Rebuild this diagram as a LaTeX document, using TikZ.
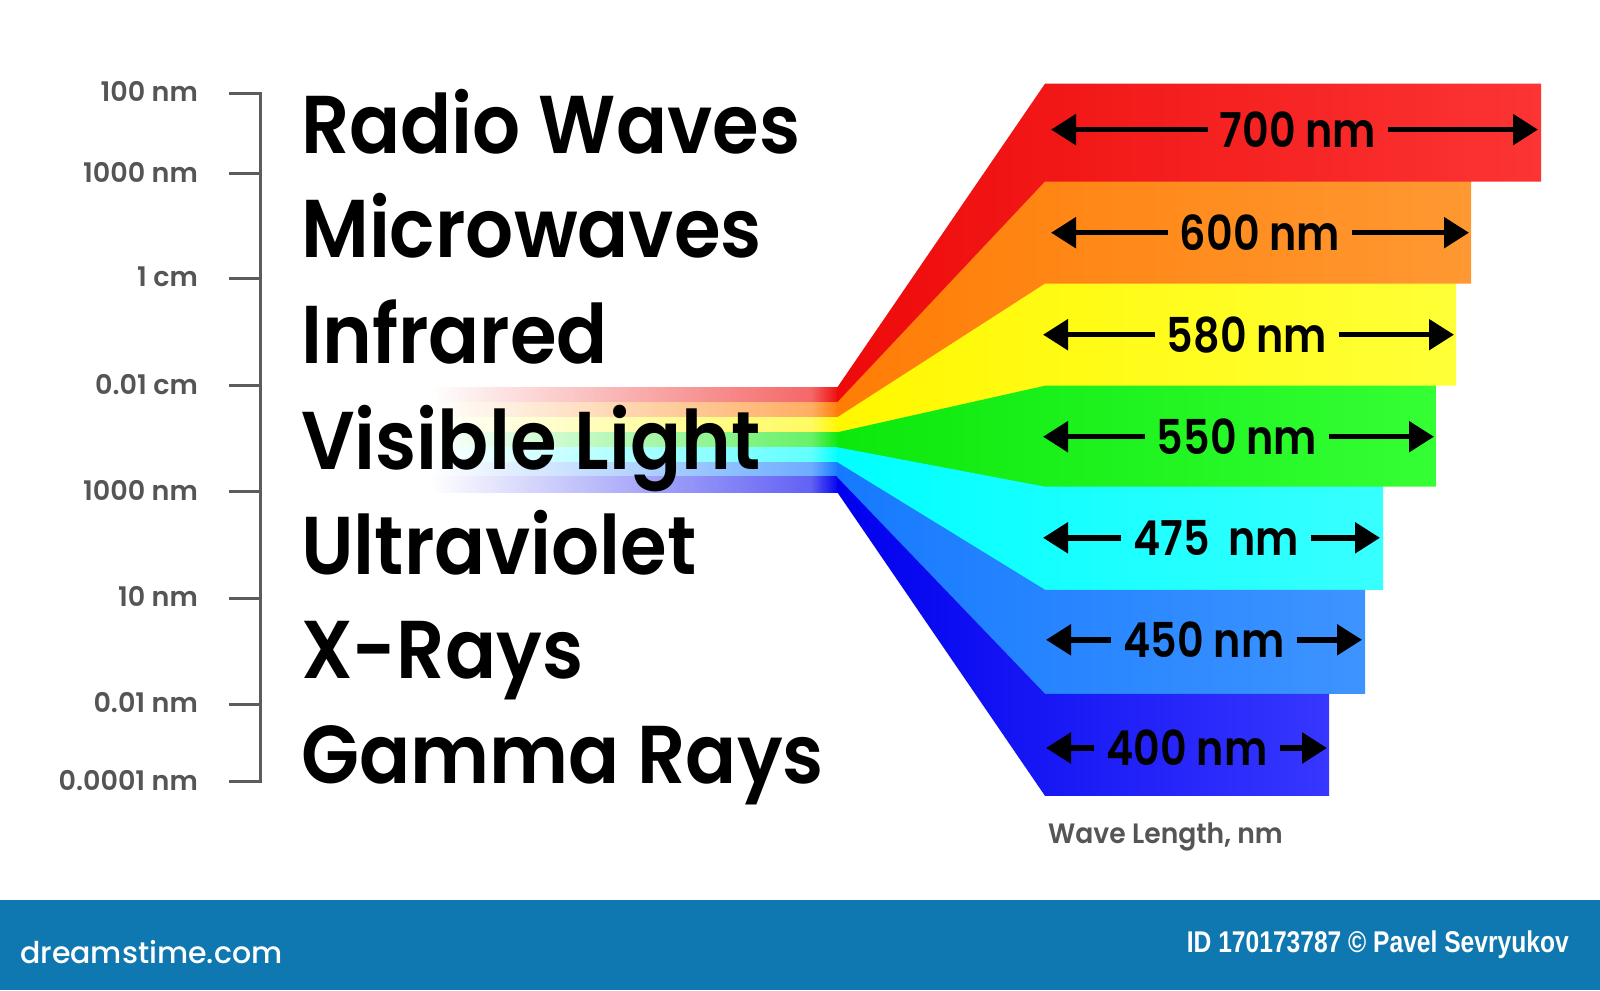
\documentclass[tikz,border=0pt]{standalone}
\usepackage{fontspec}
\usetikzlibrary{arrows.meta}
\IfFontExistsTF{Poppins Medium}{\newfontfamily\labfont{Poppins Medium}}{\newfontfamily\labfont{Poppins}}
\IfFontExistsTF{Poppins SemiBold}{\newfontfamily\semifont{Poppins SemiBold}}{\newfontfamily\semifont{Poppins}[FakeBold=1.5]}
\newfontfamily\narfont{Liberation Sans}
\definecolor{tickgray}{RGB}{92,92,92}
\definecolor{labgray}{RGB}{85,85,85}
\definecolor{barblue}{RGB}{16,120,176}
\definecolor{cRedL}{RGB}{238,10,10}\definecolor{cRedR}{RGB}{252,52,52}
\definecolor{cOraL}{RGB}{255,125,5}\definecolor{cOraR}{RGB}{255,152,50}
\definecolor{cYelL}{RGB}{255,248,0}\definecolor{cYelR}{RGB}{255,255,55}
\definecolor{cGreL}{RGB}{12,232,12}\definecolor{cGreR}{RGB}{52,255,52}
\definecolor{cCyaL}{RGB}{0,255,255}\definecolor{cCyaR}{RGB}{55,255,255}
\definecolor{cLblL}{RGB}{22,122,255}\definecolor{cLblR}{RGB}{62,148,255}
\definecolor{cBluL}{RGB}{0,0,238}\definecolor{cBluR}{RGB}{55,55,255}
\tikzset{
  scalelab/.style={anchor=east, text=labgray, inner sep=0pt, font=\semifont\fontsize{27}{30}\selectfont},
  biglab/.style={anchor=base west, inner sep=0pt, font=\semifont\fontsize{82}{90}\selectfont},
  tickline/.style={draw=tickgray, line width=3pt},
  wlab/.style={inner xsep=12pt, inner ysep=0pt, font=\semifont\fontsize{48}{54}\selectfont},
  dimarr/.style={line width=5.5pt, -{Triangle[length=25pt,width=30pt]}},
}
\newcommand{\bigtxt}[1]{\scalebox{0.92}[1]{#1}}
\begin{document}
\begin{tikzpicture}[x=1pt,y=-1pt]
\useasboundingbox (0,0) rectangle (1600,990);
\fill[white] (0,0) rectangle (1600,990);

% ---- beam strips
\foreach \c [count=\i from 0] in {cRedL,cOraL,cYelL,cGreL,cCyaL,cLblL,cBluL}{
  \pgfmathsetmacro{\ya}{387.8+\i*14.857}
  \pgfmathsetmacro{\yb}{387.8+(\i+1)*14.857+0.8}
  \shade[left color=white, right color=\c!62] (430,\ya) rectangle (812,\yb);
  \shade[left color=\c!62, right color=\c] (811,\ya) rectangle (839,\yb);
}

% ---- fan bands
\def\bx{1045}
\def\band#1#2#3#4#5#6#7{% left color, right color, top, bottom, right edge, next right edge, beam index
  \pgfmathsetmacro{\ya}{387.8+#7*14.857}
  \pgfmathsetmacro{\yb}{387.8+(#7+1)*14.857}
  \shade[left color=#1, right color=#2]
    (837,\ya) -- (\bx,#3) -- (#5,#3) -- (#5,#4) -- (#6,#4) -- (#6,#4+1) -- (\bx,#4+1) -- (837,\yb+0.8) -- cycle;
}
\band{cRedL}{cRedR}{83.7}{181.6}{1541}{1471}{0}
\band{cOraL}{cOraR}{181.6}{283.7}{1471}{1456}{1}
\band{cYelL}{cYelR}{283.7}{385.7}{1456}{1436}{2}
\band{cGreL}{cGreR}{385.7}{486.7}{1436}{1383}{3}
\band{cCyaL}{cCyaR}{486.7}{589.8}{1383}{1365}{4}
\band{cLblL}{cLblR}{589.8}{693.9}{1365}{1329}{5}
\shade[left color=cBluL, right color=cBluR]
  (837,477.0) -- (\bx,693.9) -- (1329,693.9) -- (1329,795.9) -- (\bx,795.9) -- (837,491.8) -- cycle;

% ---- scale
\coordinate (stop) at (260,93);
\coordinate (sbot) at (260,781.6);
\draw[tickline] (stop) -- (sbot);
\foreach \y/\t/\n in {93/100 nm/s0,173.5/1000 nm/s1,278.5/1 cm/s2,385.7/0.01 cm/s3,491.8/1000 nm/s4,598/10 nm/s5,704/0.01 nm/s6,781.6/0.0001 nm/s7}{
  \coordinate (\n a) at (230,\y);
  \coordinate (\n b) at (260,\y);
  \draw[tickline, line cap=rect] (\n a) -- (\n b);
  \node[scalelab] (\n) at (198,\y-1.5) {\t};
}

% ---- big labels
\node[biglab] (rw) at (301,153) {\bigtxt{Radio Waves}};
\node[biglab] (mw) at (301,257) {\bigtxt{Microwaves}};
\node[biglab] (ir) at (301,363) {\bigtxt{Infrared}};
\node[biglab] (vl) at (301,469) {\bigtxt{Visible Light}};
\node[biglab] (uv) at (301,574.5) {\bigtxt{Ultraviolet}};
\node[biglab] (xr) at (301,678.6) {\bigtxt{X-Rays}};
\node[biglab] (gr) at (301,783.7) {\bigtxt{Gamma Rays}};

% ---- wavelength arrows
\foreach \n/\cx/\cy/\xl/\xr/\t in {
  w0/1298/129.6/1051/1538/{700 nm},
  w1/1260/232.7/1051/1469/{600 nm},
  w2/1247/334.7/1043/1454/{580 nm},
  w3/1237/436.7/1043/1434/{550 nm},
  w4/1216/537.8/1043/1380/{475\hspace{10pt} nm},
  w5/1204/639.8/1046/1362/{450 nm},
  w6/1187/748/1046/1327/{400 nm}}{
  \node[wlab] (\n) at (\cx,\cy) {\scalebox{0.86}[1]{\t}};
  \coordinate (\n l) at (\xl,\cy);
  \coordinate (\n r) at (\xr,\cy);
  \draw[dimarr] (\n.west) -- (\n l);
  \draw[dimarr] (\n.east) -- (\n r);
}

\node[anchor=west, text=labgray, inner sep=0pt, font=\semifont\fontsize{28}{30}\selectfont] (wl) at (1048,837) {\scalebox{0.95}[1]{Wave Length, nm}};

% ---- bottom bar
\fill[barblue] (0,900) rectangle (1600,990);
\node[anchor=west, text=white, inner sep=0pt, font=\labfont\fontsize{30}{34}\selectfont] (ds) at (20,952) {dreamstime.com};
\node[anchor=east, text=white, inner sep=0pt, font=\narfont\bfseries\fontsize{30}{34}\selectfont] (id) at (1569,945) {\scalebox{0.82}[1]{ID 170173787 © Pavel Sevryukov}};
\end{tikzpicture}
\end{document}
